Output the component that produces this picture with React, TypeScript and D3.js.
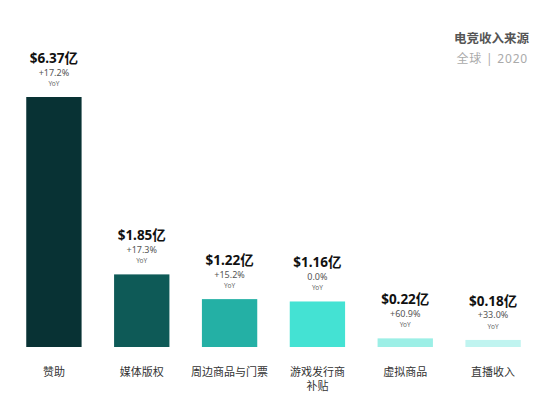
import React from "react";
import * as d3 from "d3";

const categories = ["赞助", "媒体版权", "周边商品与门票", "游戏发行商补贴", "虚拟商品", "直播收入"];
const labelLines = [["赞助"], ["媒体版权"], ["周边商品与门票"], ["游戏发行商", "补贴"], ["虚拟商品"], ["直播收入"]];
const revenue = [6.37, 1.85, 1.22, 1.16, 0.22, 0.18];
const growth = ["+17.2%", "+17.3%", "+15.2%", "0.0%", "+60.9%", "+33.0%"];
const colors = ["#083234", "#0e5a57", "#24b0a5", "#44e2d3", "#9cefe6", "#c0f4f0"];

const width = 555;
const height = 398;
const baseY = 347;
const font = "'Noto Sans', 'Noto Sans CJK SC', sans-serif";

const App = () => {
  const x = d3.scaleBand<string>()
    .domain(categories)
    .range([10, 537])
    .paddingInner(0.37)
    .paddingOuter(0.185);

  const y = d3.scaleLinear()
    .domain([0, 6.37])
    .range([baseY, 97]);

  return (
    <svg width={width} height={height} style={{ position: "absolute", left: 0, top: 0, background: "#fff" }}>
      <text x={529} y={43} textAnchor="end" fontFamily={font} fontSize={12.5} fontWeight="bold" fill="#555">电竞收入来源</text>
      <text x={528} y={63} textAnchor="end" fontFamily={font} fontSize={12} fill="#aaa" letterSpacing={0.8}>全球 | 2020</text>
      {categories.map((c, i) => {
        const bx = x(c) as number;
        const cx = bx + x.bandwidth() / 2;
        const top = y(revenue[i]);
        return (
          <g key={c}>
            <rect x={bx} y={top} width={x.bandwidth()} height={baseY - top} fill={colors[i]} />
            <text x={cx} y={top - 34} textAnchor="middle" fontFamily={font} fontSize={13.5} fontWeight="bold" fill="#111">
              {"$" + revenue[i].toFixed(2) + "亿"}
            </text>
            <text x={cx} y={top - 21.5} textAnchor="middle" fontFamily={font} fontSize={9} fill="#555">{growth[i]}</text>
            <text x={cx} y={top - 11} textAnchor="middle" fontFamily={font} fontSize={6.5} fill="#666">YoY</text>
            {labelLines[i].map((l, j) => (
              <text key={j} x={cx} y={376 + j * 14} textAnchor="middle" fontFamily={font} fontSize={11} fill="#333">{l}</text>
            ))}
          </g>
        );
      })}
    </svg>
  );
};

export default App;
